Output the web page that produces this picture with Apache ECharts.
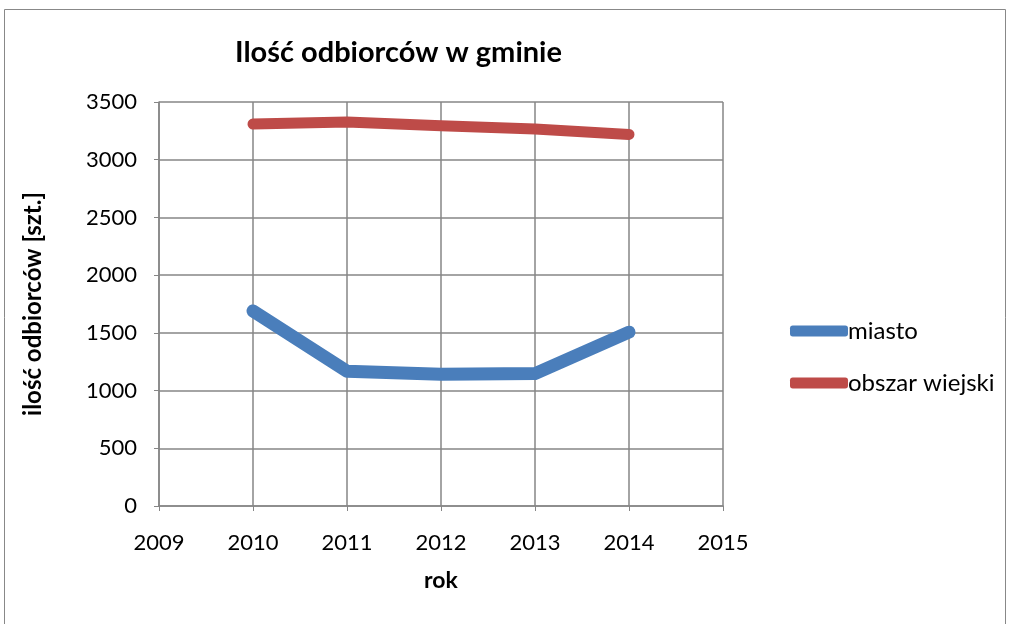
<!DOCTYPE html>
<html><head><meta charset="utf-8">
<script src="https://cdn.jsdelivr.net/npm/echarts@6/dist/echarts.min.js"></script>
<style>html,body{margin:0;padding:0;background:#fff}#c{width:1011px;height:624px}</style>
</head><body><div id="c"></div>
<script>
const years = [2010, 2011, 2012, 2013, 2014];
const miasto = [1690, 1168, 1142, 1147, 1506];
const obszarWiejski = [3309, 3326, 3294, 3266, 3219];
const seriesNames = ['miasto', 'obszar wiejski'];
const titleText = 'Ilość odbiorców w gminie';
const xName = 'rok';
const yName = 'ilość odbiorców [szt.]';

const font = 'Lato, "Open Sans", sans-serif';
const chart = echarts.init(document.getElementById('c'), null, {renderer: 'canvas'});
chart.setOption({
  backgroundColor: '#fff',
  animation: false,
  graphic: [{type: 'rect', shape: {x: 4.5, y: 9.5, width: 1001, height: 620}, style: {fill: 'none', stroke: '#888', lineWidth: 1}}],
  title: {text: titleText, left: 230, top: 33, textStyle: {fontFamily: font, fontSize: 29, fontWeight: 'bold', color: '#000'}},
  legend: {
    orient: 'vertical', left: 785, top: 314, itemGap: 28,
    itemWidth: 58, itemHeight: 11, icon: 'roundRect',
    textStyle: {fontFamily: font, fontSize: 24, color: '#000', padding: [0, 0, 0, -5]},
    data: seriesNames
  },
  grid: {left: 159, right: 288, top: 102, bottom: 118, containLabel: false},
  xAxis: {
    type: 'value', min: 2009, max: 2015, interval: 1,
    name: xName, nameLocation: 'middle', nameGap: 63,
    nameTextStyle: {fontFamily: font, fontSize: 23, fontWeight: 'bold', color: '#000'},
    axisLine: {show: true, lineStyle: {color: '#868686', width: 1.5}},
    axisTick: {show: true, length: 5, lineStyle: {color: '#868686'}},
    splitLine: {show: true, lineStyle: {color: '#868686', width: 1.5}},
    axisLabel: {fontFamily: font, fontSize: 22, color: '#000', margin: 26, formatter: v => String(v)}
  },
  yAxis: {
    type: 'value', min: 0, max: 3500, interval: 500,
    name: yName, nameLocation: 'middle', nameGap: 114,
    nameTextStyle: {fontFamily: font, fontSize: 24, fontWeight: 'bold', color: '#000'},
    axisLine: {show: true, lineStyle: {color: '#868686', width: 1.5}},
    axisTick: {show: true, length: 5, lineStyle: {color: '#868686'}},
    splitLine: {show: true, lineStyle: {color: '#868686', width: 1.5}},
    axisLabel: {fontFamily: font, fontSize: 22, color: '#000', margin: 22, formatter: v => String(v)}
  },
  series: [
    {name: seriesNames[0], type: 'line', data: years.map((y, i) => [y, miasto[i]]), symbol: 'none',
     color: '#4A7EBB', lineStyle: {width: 13, color: '#4A7EBB', cap: 'round', join: 'round'}},
    {name: seriesNames[1], type: 'line', data: years.map((y, i) => [y, obszarWiejski[i]]), symbol: 'none',
     color: '#BE4B48', lineStyle: {width: 11, color: '#BE4B48', cap: 'round', join: 'round'}}
  ]
});
</script></body></html>
